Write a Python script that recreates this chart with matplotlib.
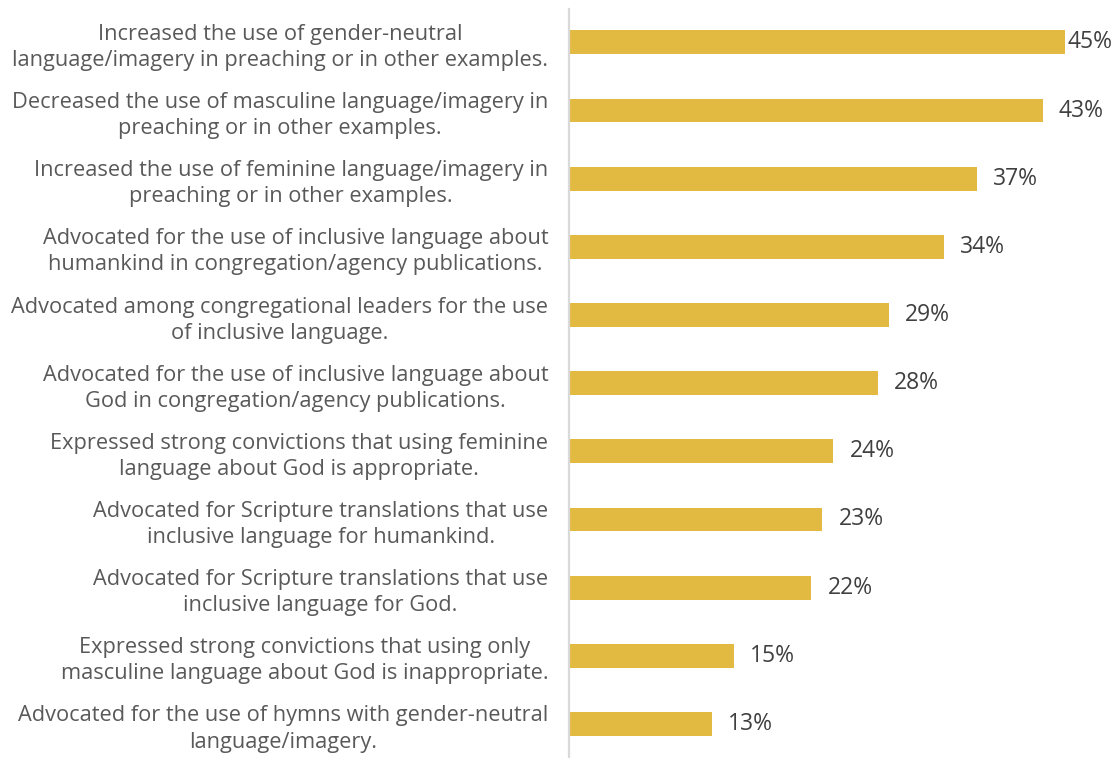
import matplotlib
matplotlib.use("Agg")
import matplotlib.pyplot as plt

categories = [
    "Increased the use of gender-neutral\nlanguage/imagery in preaching or in other examples.",
    "Decreased the use of masculine language/imagery in\npreaching or in other examples.",
    "Increased the use of feminine language/imagery in\npreaching or in other examples.",
    "Advocated for the use of inclusive language about\nhumankind in congregation/agency publications.",
    "Advocated among congregational leaders for the use\nof inclusive language.",
    "Advocated for the use of inclusive language about\nGod in congregation/agency publications.",
    "Expressed strong convictions that using feminine\nlanguage about God is appropriate.",
    "Advocated for Scripture translations that use\ninclusive language for humankind.",
    "Advocated for Scripture translations that use\ninclusive language for God.",
    "Expressed strong convictions that using only\nmasculine language about God is inappropriate.",
    "Advocated for the use of hymns with gender-neutral\nlanguage/imagery.",
]
values = [45, 43, 37, 34, 29, 28, 24, 23, 22, 15, 13]

plt.rcParams["font.family"] = ["Open Sans", "DejaVu Sans"]

W, H = 1114, 758
fig = plt.figure(figsize=(W / 100, H / 100), dpi=100)
ax = fig.add_axes([569 / W, 0, 1 - 569 / W, (758 - 9) / H])

y = list(range(len(values)))
ax.barh(y, values, height=0.35, color="#E2B941", zorder=2)

xmax = (W - 569) / 11.02
ax.set_xlim(0, xmax)
ax.set_ylim(len(values) - 0.5, -0.49)

ax.set_yticks(y)
ax.set_yticklabels(categories, fontsize=15.7, color="#595959",
                   multialignment="center", linespacing=1.32)
ax.tick_params(axis="y", length=0, pad=15)
ax.set_xticks([])

for s in ["top", "right", "bottom"]:
    ax.spines[s].set_visible(False)
ax.spines["left"].set_color("#D9D9D9")
ax.spines["left"].set_linewidth(1.6)

# value labels sit just past each bar, kept inside the right edge
label_w = 46 / 11.02
for yi, v in zip(y, values):
    xt = min(v + 16 / 11.02, xmax - label_w)
    ax.text(xt, yi, f"{v}%", va="center", ha="left",
            fontsize=16.5, color="#404040")

fig.savefig("out.png", dpi=100)
